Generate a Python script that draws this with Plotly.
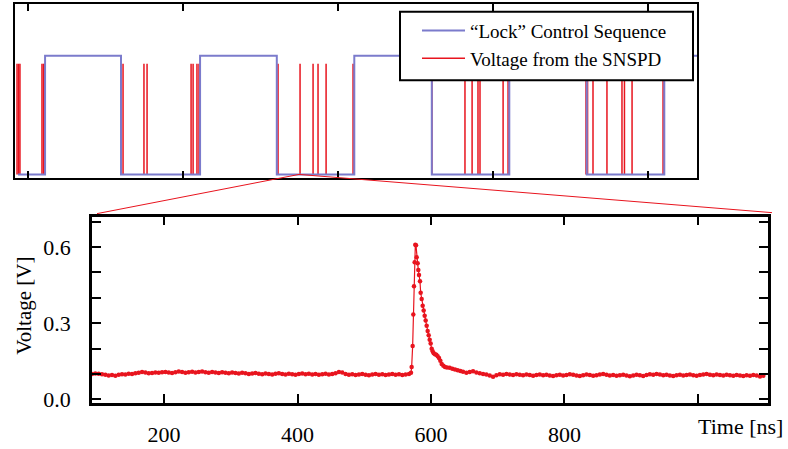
import plotly.graph_objects as go

# ---------------- top panel data (time in arbitrary units, ticks at integers) ----
lock_edges = [-0.065, 0.110, 0.600, 1.110, 1.605, 2.105, 2.605, 3.105, 3.605, 4.105, 4.316]
lock_levels = [0, 1, 0, 1, 0, 1, 0, 1, 0, 1, 1]

spike_times = [-0.071, -0.061, -0.052, 0.090, 0.100, 0.106, 0.613, 0.748, 0.768,
               1.052, 1.065, 1.090, 1.103, 1.613, 1.755, 1.839, 1.871, 1.923, 2.097,
               2.606, 2.819, 2.865, 2.903, 2.916, 3.065, 3.097,
               3.600, 3.610, 3.645, 3.735, 3.832, 3.848, 3.897, 4.097]
spike_height = 0.934
top_ticks = [0, 1, 2, 3, 4]

# ---------------- bottom panel data (SNSPD pulse) ----------------
t_pre = list(range(92, 568, 5))
v_pre = [0.100, 0.102, 0.101, 0.099, 0.097, 0.094, 0.096, 0.093, 0.097, 0.099, 0.098,
         0.101, 0.100, 0.103, 0.105, 0.108, 0.106, 0.103, 0.104, 0.106, 0.105, 0.107,
         0.108, 0.106, 0.104, 0.107, 0.110, 0.108, 0.105, 0.107, 0.109, 0.106, 0.108,
         0.110, 0.107, 0.105, 0.108, 0.106, 0.104, 0.107, 0.105, 0.103, 0.106, 0.104,
         0.102, 0.105, 0.103, 0.100, 0.102, 0.104, 0.101, 0.099, 0.102, 0.100, 0.098,
         0.101, 0.103, 0.100, 0.098, 0.101, 0.099, 0.097, 0.100, 0.102, 0.099, 0.101,
         0.098, 0.100, 0.097, 0.099, 0.101, 0.098, 0.100, 0.103, 0.108, 0.106, 0.100,
         0.097, 0.099, 0.096, 0.098, 0.100, 0.097, 0.095, 0.098, 0.100, 0.097, 0.099,
         0.096, 0.098, 0.100, 0.097, 0.099, 0.096, 0.098, 0.100]

t_peak = [570, 571, 572.5, 573.5, 574.5, 575.5, 576.5, 577.5, 578.5, 580, 581, 582,
          583.5, 584.5, 586, 587.5, 589, 590.5, 592, 593.5, 595, 596.5, 598, 599.5,
          601, 602.5, 604, 606, 608, 610, 612, 614, 616, 618.5, 621, 624, 628, 632,
          636, 640, 644, 648, 653, 658, 663, 668, 673, 678]
v_peak = [0.105, 0.128, 0.210, 0.334, 0.446, 0.540, 0.609, 0.607, 0.560, 0.536, 0.510, 0.490,
          0.465, 0.420, 0.395, 0.369, 0.350, 0.330, 0.311, 0.290, 0.270, 0.253, 0.235, 0.220,
          0.200, 0.190, 0.182, 0.178, 0.176, 0.170, 0.163, 0.152, 0.140, 0.133, 0.128, 0.126,
          0.125, 0.121, 0.118, 0.115, 0.112, 0.109, 0.105, 0.108, 0.111, 0.106, 0.103, 0.100]

t_post = list(range(683, 1099, 5))
v_post = [0.098, 0.094, 0.089, 0.095, 0.099, 0.097, 0.100, 0.098, 0.096, 0.099, 0.097,
          0.095, 0.098, 0.096, 0.093, 0.096, 0.098, 0.095, 0.097, 0.094, 0.092, 0.095,
          0.097, 0.094, 0.096, 0.099, 0.097, 0.094, 0.092, 0.095, 0.098, 0.096, 0.093,
          0.095, 0.098, 0.100, 0.097, 0.094, 0.096, 0.093, 0.095, 0.097, 0.094, 0.091,
          0.094, 0.097, 0.095, 0.092, 0.096, 0.099, 0.097, 0.100, 0.098, 0.095, 0.097,
          0.094, 0.092, 0.095, 0.097, 0.094, 0.096, 0.098, 0.095, 0.093, 0.096, 0.098,
          0.100, 0.097, 0.095, 0.098, 0.096, 0.094, 0.097, 0.095, 0.093, 0.096, 0.094,
          0.092, 0.095, 0.093, 0.096, 0.094, 0.090, 0.093]

bottom_tickvals = [200, 400, 600, 800, 1000]
bottom_ticktext = ["200", "400", "600", "800", ""]
y_tickvals = [0.0, 0.3, 0.6]

BLUE = "#7b7bcc"
RED = "#e8141e"
FONT = "Liberation Serif"

t_all = t_pre + t_peak + t_post
v_all = v_pre + v_peak + v_post

sx, sy = [], []
for t in spike_times:
    sx += [t, t, None]
    sy += [0, spike_height, None]

fig = go.Figure()
fig.add_trace(go.Scatter(x=sx, y=sy, mode="lines", line=dict(color=RED, width=1.5),
                         name="Voltage from the SNSPD", xaxis="x", yaxis="y", legendrank=2))
fig.add_trace(go.Scatter(x=lock_edges, y=lock_levels, mode="lines", line_shape="hv",
                         line=dict(color=BLUE, width=2),
                         name="\u201cLock\u201d Control Sequence", xaxis="x", yaxis="y", legendrank=1))
fig.add_trace(go.Scatter(x=t_all, y=v_all, mode="lines+markers",
                         line=dict(color=RED, width=1.2),
                         marker=dict(color=RED, size=4.5),
                         showlegend=False, xaxis="x2", yaxis="y2"))

W, H = 788, 449
tickfont = dict(family=FONT, size=22, color="black")
fig.update_layout(
    width=W, height=H, margin=dict(l=0, r=0, t=0, b=0, pad=0),
    paper_bgcolor="white", plot_bgcolor="white",
    font=dict(family=FONT, color="black", size=22),
    xaxis=dict(domain=[15 / W, 697 / W], range=[-0.084, 4.316], tickvals=top_ticks,
               showticklabels=False, ticks="inside", ticklen=7, tickwidth=2, tickcolor="black",
               showline=True, linecolor="black", linewidth=2, mirror="ticks",
               showgrid=False, zeroline=False, anchor="y"),
    yaxis=dict(domain=[1 - 182 / H, 1 - 4 / H], range=[-0.033, 1.438],
               showticklabels=False, ticks="", showline=True, linecolor="black",
               linewidth=2, mirror=True, showgrid=False, zeroline=False, anchor="x"),
    xaxis2=dict(domain=[92 / W, 768 / W], range=[92, 1105], tickvals=bottom_tickvals,
                ticktext=bottom_ticktext, ticks="inside", ticklen=9, tickwidth=2,
                tickcolor="black", showline=True, linecolor="black", linewidth=2.5,
                mirror="ticks", showgrid=False, zeroline=False, anchor="y2",
                ticklabelstandoff=10, tickfont=tickfont),
    yaxis2=dict(domain=[1 - 411 / H, 1 - 221 / H], range=[-0.013, 0.72],
                tickvals=y_tickvals, tickformat=".1f", ticks="inside", ticklen=9,
                tickwidth=2, tickcolor="black",
                minor=dict(dtick=0.1, tick0=0, ticks="inside", ticklen=9, tickwidth=2,
                           tickcolor="black"),
                showline=True, linecolor="black", linewidth=2.5, mirror="ticks",
                showgrid=False, zeroline=False, anchor="x2",
                ticklabelstandoff=14, tickfont=tickfont),
    legend=dict(x=417 / W, y=1 - 12 / H, xanchor="left", yanchor="top",
                bgcolor="rgba(0,0,0,0)", borderwidth=0,
                font=dict(family=FONT, size=19, color="black"), itemwidth=43,
                tracegroupgap=0),
    showlegend=True,
)

# legend frame (white box with black border behind the legend entries)
fig.add_shape(type="rect", xref="paper", yref="paper", layer="above",
              x0=400 / W, x1=693 / W, y0=1 - 82 / H, y1=1 - 12 / H,
              fillcolor="white", line=dict(color="black", width=2))

fig.add_annotation(text="Time [ns]", x=1000, xref="x2", xanchor="left", xshift=-2,
                   y=1 - 435 / H, yref="paper", yanchor="middle", showarrow=False,
                   font=dict(family=FONT, size=22))
fig.add_annotation(text="Voltage [V]", x=24 / W, xref="paper", xanchor="center",
                   y=1 - 312 / H, yref="paper", yanchor="middle", textangle=-90,
                   showarrow=False, font=dict(family=FONT, size=21))

for (x0, y0, x1, y1) in [(97, 218, 299, 178), (299, 178, 772, 217)]:
    fig.add_shape(type="line", xref="paper", yref="paper",
                  x0=x0 / W, y0=1 - y0 / H, x1=x1 / W, y1=1 - y1 / H,
                  line=dict(color=RED, width=1))

fig.write_html("out.html")
